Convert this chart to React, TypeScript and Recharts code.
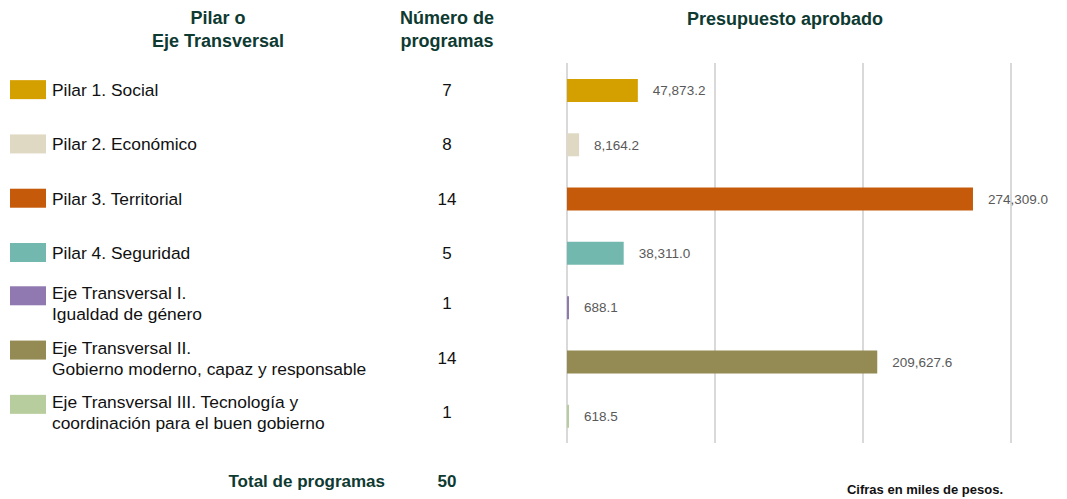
import React from 'react';
import { BarChart, Bar, XAxis, YAxis, CartesianGrid, Cell, LabelList } from 'recharts';

// Pilares y ejes transversales
const categories = [
  'Pilar 1. Social',
  'Pilar 2. Económico',
  'Pilar 3. Territorial',
  'Pilar 4. Seguridad',
  'Eje Transversal I.|Igualdad de género',
  'Eje Transversal II.|Gobierno moderno, capaz y responsable',
  'Eje Transversal III. Tecnología y|coordinación para el buen gobierno',
];
const programCounts = [7, 8, 14, 5, 1, 14, 1];
const budgets = [47873.2, 8164.2, 274309.0, 38311.0, 688.1, 209627.6, 618.5];
const barColors = ['#D4A000', '#DFD9C3', '#C55A0A', '#73B8AF', '#8F79B0', '#948A53', '#B8CD9D'];
const xTicks = [0, 100000, 200000, 300000];

const FONT = '"Liberation Sans", Arial, sans-serif';
const HEAD = '#0E3A32';

const data = categories.map((name, i) => ({
  name,
  count: programCounts[i],
  value: budgets[i],
  color: barColors[i],
}));

const totalProgramas = programCounts.reduce((a, b) => a + b, 0);

const fmt = (v: number) =>
  v.toLocaleString('en-US', { minimumFractionDigits: 1, maximumFractionDigits: 1 });

const RowTick = (props: any) => {
  const { y, payload, index } = props;
  const row = data[index] || data.find((d) => d.name === payload.value);
  const lines = String(payload.value).split('|');
  const two = lines.length > 1;
  return (
    <g>
      <rect x={10} y={two ? y - 21 : y - 10} width={36} height={19} fill={row.color} />
      <text x={52} y={two ? y - 8 : y + 6} fontSize={17.4} fill="#111" fontFamily={FONT}>
        {lines.map((l, i) => (
          <tspan key={i} x={52} dy={i === 0 ? 0 : 21}>
            {l}
          </tspan>
        ))}
      </text>
      <text x={447} y={two ? y + 2 : y + 6} fontSize={17} fill="#111" fontFamily={FONT} textAnchor="middle">
        {row.count}
      </text>
    </g>
  );
};

const headStyle: React.CSSProperties = {
  position: 'absolute',
  fontFamily: FONT,
  fontWeight: 700,
  fontSize: 18,
  color: HEAD,
  textAlign: 'center',
  lineHeight: '23px',
};

export default function App() {
  return (
    <div style={{ position: 'absolute', left: 0, top: 0, width: 1067, height: 499, background: '#fff' }}>
      <div style={{ ...headStyle, left: 118, top: 7, width: 200 }}>
        Pilar o<br />Eje Transversal
      </div>
      <div style={{ ...headStyle, left: 367, top: 7, width: 160 }}>
        Número de<br />programas
      </div>
      <div style={{ ...headStyle, left: 635, top: 8, width: 300 }}>Presupuesto aprobado</div>
      <BarChart
        width={1067}
        height={499}
        data={data}
        layout="vertical"
        margin={{ top: 63, right: 56, bottom: 56, left: 10 }}
        barSize={23}
      >
        <CartesianGrid horizontal={false} stroke="#D9D9D9" strokeWidth={2} />
        <XAxis type="number" domain={[0, 300000]} ticks={xTicks} hide />
        <YAxis
          type="category"
          dataKey="name"
          width={557}
          axisLine={false}
          tickLine={false}
          tick={<RowTick />}
          interval={0}
        />
        <Bar dataKey="value" isAnimationActive={false} minPointSize={2}>
          {data.map((d, i) => (
            <Cell key={`cell-${i}`} fill={d.color} />
          ))}
          <LabelList
            dataKey="value"
            position="right"
            offset={15}
            formatter={(v: any) => fmt(Number(v))}
            style={{ fontSize: 13.5, fill: '#595959', fontFamily: FONT }}
          />
        </Bar>
      </BarChart>
      <div
        style={{
          position: 'absolute',
          left: 135,
          top: 472,
          width: 250,
          textAlign: 'right',
          fontFamily: FONT,
          fontWeight: 700,
          fontSize: 17,
          color: HEAD,
        }}
      >
        Total de programas
      </div>
      <div
        style={{
          position: 'absolute',
          left: 417,
          top: 472,
          width: 60,
          textAlign: 'center',
          fontFamily: FONT,
          fontWeight: 700,
          fontSize: 17,
          color: HEAD,
        }}
      >
        {totalProgramas}
      </div>
      <div
        style={{
          position: 'absolute',
          left: 825,
          top: 482,
          width: 200,
          textAlign: 'center',
          fontFamily: FONT,
          fontWeight: 700,
          fontSize: 13,
          color: '#111',
        }}
      >
        Cifras en miles de pesos.
      </div>
    </div>
  );
}
